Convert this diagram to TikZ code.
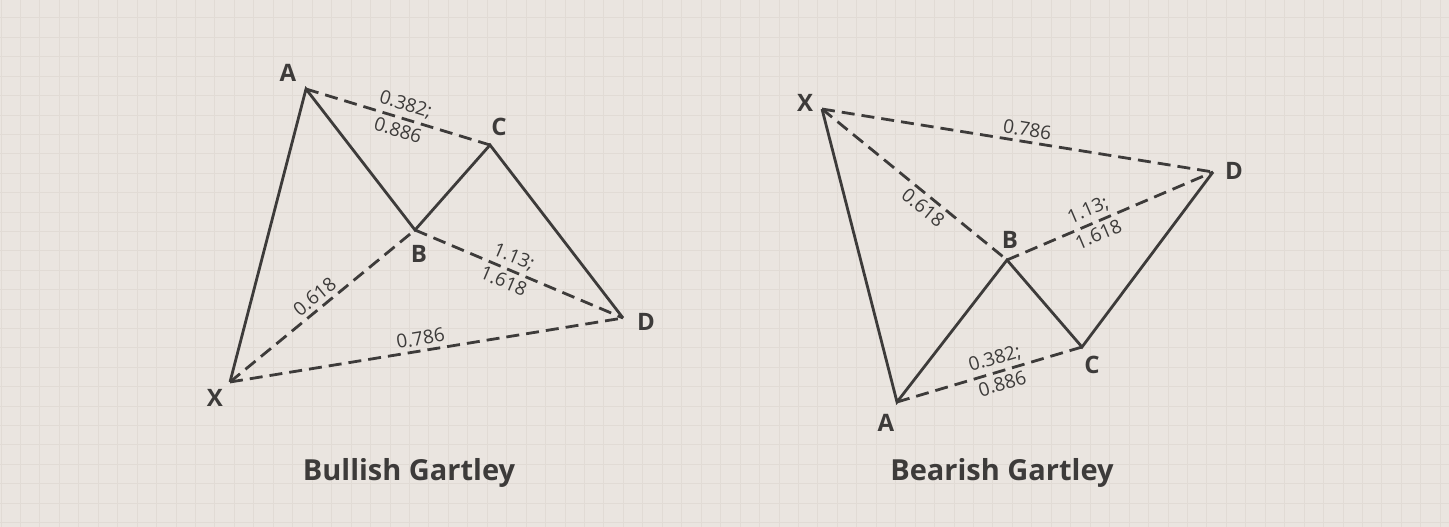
\documentclass[tikz,border=0pt]{standalone}
\usepackage{fontspec}
\setmainfont{Open Sans}
\definecolor{paperbg}{HTML}{EAE5E0}
\definecolor{gridcol}{HTML}{E1DBD5}
\definecolor{inkgray}{HTML}{3D3B3A}
\tikzset{
  leg/.style={draw=inkgray, line width=2.8pt},
  ratio/.style={draw=inkgray, line width=2.8pt, dash pattern=on 13pt off 7pt},
  vtx/.style={text=inkgray, font=\fontsize{24}{28}\selectfont\bfseries, inner sep=0pt},
  num/.style={text=inkgray, font=\fontsize{19}{21}\selectfont, inner sep=4pt, sloped},
  caption/.style={text=inkgray, font=\fontsize{29}{34}\selectfont\bfseries}
}

\begin{document}
\begin{tikzpicture}[x=1pt, y=1pt]
  \useasboundingbox (0,0) rectangle (1449,-527);
  \fill[paperbg] (0,0) rectangle (1449,-527);
  \foreach \i in {0,...,74} {
    \draw[gridcol, line width=1pt] (\i*19.45+1,0) -- ++(0,-527);
  }
  \foreach \i in {0,...,27} {
    \draw[gridcol, line width=1pt] (0,-\i*19.4-18) -- ++(1449,0);
  }

  % bullish
  \coordinate (bX) at (230,-382);
  \coordinate (bA) at (306,-89);
  \coordinate (bB) at (415,-230);
  \coordinate (bC) at (490,-145);
  \coordinate (bD) at (623,-318);
  \node[vtx] (bXl) at (215,-398) {X};
  \node[vtx] (bAl) at (288,-73) {A};
  \node[vtx] (bBl) at (419,-254) {B};
  \node[vtx] (bCl) at (499,-127) {C};
  \node[vtx] (bDl) at (646,-322) {D};
  \draw[ratio] (bA) -- node[num, above, pos=0.52] {0.382;} node[num, below, pos=0.52] {0.886} (bC);
  \draw[ratio] (bX) -- node[num, above, pos=0.5] {0.618} (bB);
  \draw[ratio] (bB) -- node[num, above, pos=0.45] {1.13;} node[num, below, pos=0.45] {1.618} (bD);
  \draw[ratio] (bX) -- node[num, above, pos=0.49] {0.786} (bD);
  \draw[leg, line join=miter] (bX) -- (bA) -- (bB) -- (bC) -- (bD);
  \node[caption] (bTitle) at (409,-473) {Bullish Gartley};

  % bearish
  \coordinate (rX) at (822,-109);
  \coordinate (rA) at (897,-402);
  \coordinate (rB) at (1007,-260);
  \coordinate (rC) at (1082,-347);
  \coordinate (rD) at (1213,-172);
  \node[vtx] (rXl) at (805,-103) {X};
  \node[vtx] (rAl) at (886,-423) {A};
  \node[vtx] (rBl) at (1010,-240) {B};
  \node[vtx] (rCl) at (1092,-365) {C};
  \node[vtx] (rDl) at (1234,-171) {D};
  \draw[ratio] (rX) -- node[num, above, pos=0.52] {0.786} (rD);
  \draw[ratio] (rX) -- node[num, below, pos=0.59] {0.618} (rB);
  \draw[ratio] (rB) -- node[num, above, pos=0.42] {1.13;} node[num, below, pos=0.42] {1.618} (rD);
  \draw[ratio] (rA) -- node[num, above, pos=0.55] {0.382;} node[num, below, pos=0.55] {0.886} (rC);
  \draw[leg, line join=miter] (rX) -- (rA) -- (rB) -- (rC) -- (rD);
  \node[caption] (rTitle) at (1002,-473) {Bearish Gartley};
\end{tikzpicture}
\end{document}
